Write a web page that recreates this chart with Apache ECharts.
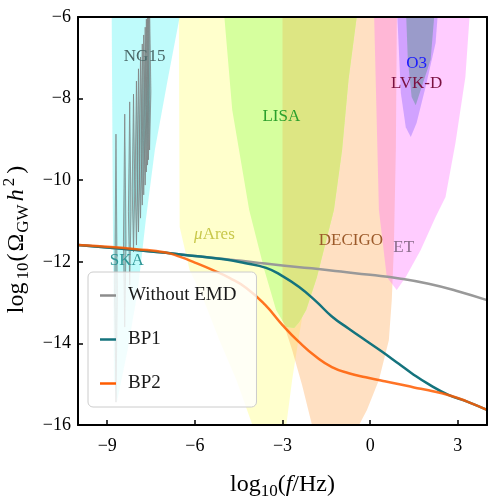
<!DOCTYPE html>
<html>
<head>
<meta charset="utf-8">
<script src="https://cdn.jsdelivr.net/npm/echarts@6/dist/echarts.min.js"></script>
<style>
  html, body { margin: 0; padding: 0; background: #fff; }
  #chart { width: 488px; height: 497px; }
</style>
</head>
<body>
<div id="chart"></div>
<script>
// tick labels
const xTicks = [-9, -6, -3, 0, 3];

// sensitivity regions: boundary curves, log10 f vs log10 Omega h^2
const skaX = [-8.85, -8.81, -8.77, -8.67, -8.30, -7.95, -7.68, -7.37, -6.93, -6.52, -6.40];
const skaY = [-5.5, -10.5, -14.9, -15.45, -14.16, -12.69, -10.98, -9.26, -7.54, -6.0, -5.5];

const muAresX = [-6.55, -6.52, -6.18, -5.74, -5.16, -4.58, -4.03, -3.5, -2.87, -2.67, -2.43, -2.0, -1.3, -0.7, -0.6];
const muAresY = [-5.5, -11.15, -12.2, -12.86, -13.92, -14.9, -16.0, -16.8, -16.0, -14.9, -13.8, -12.0, -9.0, -6.0, -5.5];

const lisaX = [-5.09, -4.99, -4.72, -4.14, -3.62, -3.22, -2.87, -2.6, -2.43, -2.19, -1.82, -1.24, -0.96, -0.74, -0.46, -0.42];
const lisaY = [-5.5, -6.0, -8.28, -10.73, -12.2, -13.18, -13.6, -13.62, -13.48, -13.18, -12.37, -10.73, -9.26, -7.54, -6.0, -5.5];

const decigoX = [-3.0, -3.0, -2.67, -2.33, -1.99, -1.2, -0.38, -0.11, 0.30, 0.64, 0.74, 0.81, 0.88, 0.92];
const decigoY = [-5.5, -13.43, -14.16, -15.02, -16.0, -17.0, -16.0, -15.63, -14.90, -13.92, -12.94, -11.71, -9.26, -5.5];

const etX = [0.12, 0.30, 0.57, 0.91, 1.22, 1.73, 2.24, 2.58, 2.92, 3.26, 3.45];
const etY = [-5.5, -10.73, -12.37, -12.69, -12.37, -11.71, -10.90, -10.41, -9.09, -7.47, -5.5];

const lvkX = [0.90, 1.05, 1.22, 1.39, 1.59, 1.93, 2.24, 2.36];
const lvkY = [-5.5, -7.86, -8.70, -8.94, -8.60, -7.62, -6.64, -5.5];

const o3X = [1.21, 1.29, 1.42, 1.56, 1.73, 2.07, 2.25];
const o3Y = [-5.5, -7.05, -7.96, -8.16, -7.79, -7.05, -5.5];

// NANOGrav 15yr violins
const ng15LogF = [-8.70, -8.40, -8.23, -8.10, -8.00, -7.93, -7.86, -7.80, -7.75, -7.70, -7.66, -7.62, -7.59, -7.55];
const ng15Top = [-8.87, -8.38, -8.08, -7.89, -7.57, -7.27, -6.98, -6.66, -6.44, -6.25, -6.05, -5.9, -5.8, -5.7];
const ng15Bottom = [-15.44, -13.60, -12.57, -11.76, -11.59, -11.27, -10.93, -10.61, -10.36, -10.12, -9.80, -9.63, -9.50, -9.26];

// GW spectra
const noEmdX = [-10, -9, -8, -7, -6, -5, -4, -3, -2, -1, 0, 1, 2, 3, 4];
const noEmdY = [-11.59, -11.65, -11.71, -11.78, -11.86, -11.93, -12.01, -12.09, -12.16, -12.24, -12.32, -12.41, -12.54, -12.72, -12.94];

const bp1X = [-10, -9, -8, -7, -6, -5, -4.3, -3.56, -3.0, -2.43, -1.85, -1.31, -0.73, -0.15, 0.4, 0.98, 1.42, 2.0, 2.68, 3.3, 4];
const bp1Y = [-11.59, -11.65, -11.71, -11.78, -11.86, -11.94, -12.03, -12.15, -12.35, -12.62, -12.97, -13.34, -13.64, -13.93, -14.2, -14.5, -14.73, -15.0, -15.26, -15.42, -15.63];

const bp2X = [-10, -9, -8, -7, -6.5, -6, -5.4, -4.8, -4.24, -3.6, -3.0, -2.43, -1.85, -1.31, -0.73, -0.15, 0.5, 1.0, 1.5, 2.0, 2.7, 3.3, 4];
const bp2Y = [-11.59, -11.63, -11.69, -11.77, -11.88, -12.02, -12.2, -12.4, -12.64, -13.05, -13.55, -13.97, -14.33, -14.58, -14.73, -14.83, -14.93, -15.0, -15.08, -15.15, -15.27, -15.42, -15.63];

// detector labels (anchor in data coords)
const labelText = ['NG15', 'SKA', '{i|μ}Ares', 'LISA', 'DECIGO', 'ET', 'O3', 'LVK-D'];
const labelAt = [[-7.72, -6.96], [-8.33, -11.98], [-5.33, -11.34], [-3.04, -8.45], [-0.66, -11.47], [1.15, -11.66], [1.59, -7.15], [1.59, -7.64]];
const labelColor = ['#4a6868', '#2e9696', '#c8c84a', '#2ca02c', '#9c5a2a', '#8a6d8a', '#1a1aff', '#7a1040'];

const SERIF = 'Liberation Serif';

const zip = (xs, ys) => xs.map((x, i) => [x, ys[i]]);

// keep only the part of a closed polygon with x >= x0
function clipLeft(pts, x0) {
  const out = [];
  for (let i = 0; i < pts.length; i++) {
    const a = pts[i], b = pts[(i + 1) % pts.length];
    const ina = a[0] >= x0, inb = b[0] >= x0;
    if (ina) out.push(a);
    if (ina !== inb) {
      const t = (x0 - a[0]) / (b[0] - a[0]);
      out.push([x0, a[1] + t * (b[1] - a[1])]);
    }
  }
  return out;
}

function region(pts, color, z) {
  return {
    type: 'custom',
    clip: true,
    silent: true,
    z: z,
    data: [0],
    renderItem: (params, api) => ({
      type: 'polygon',
      shape: { points: pts.map(p => api.coord(p)) },
      style: { fill: color }
    })
  };
}

const lisaPts = zip(lisaX, lisaY);

// rich text pieces for math-like axis titles
const tok = (size, padTop, extra) => Object.assign({
  fontFamily: SERIF, fontSize: size, color: '#000', verticalAlign: 'top', padding: [padTop, 0, 0, 0]
}, extra || {});

const xRich = {
  n: tok(24, 4),
  i: tok(24, 4, { fontStyle: 'italic' }),
  s: tok(17, 14)
};

const yRich = {
  lg: tok(24, 4, { padding: [4, 3, 0, 3] }),
  s: tok(17, 14),
  op: tok(24, 4, { padding: [4, 1, 0, 1] }),
  om: tok(24, 4, { padding: [4, 1, 0, 1] }),
  h: tok(24, 4, { fontStyle: 'italic', padding: [4, 2, 0, 3] }),
  p: tok(17, 0, { padding: [0, 2, 0, 1] }),
  cp: tok(24, 4, { padding: [4, 5, 0, 2] })
};

const minus = v => String(v).replace('-', '\u2212');

const chart = echarts.init(document.getElementById('chart'));

const option = {
  animation: false,
  grid: { left: 78, right: 1, top: 17, bottom: 72, outerBoundsMode: 'none' },
  xAxis: [{
    type: 'value', min: -10, max: 4, z: 10,
    axisLine: { onZero: false, lineStyle: { color: '#000', width: 2 } },
    axisTick: { inside: true, length: 5, customValues: xTicks, lineStyle: { color: '#000', width: 1.5 } },
    axisLabel: { customValues: xTicks, formatter: minus, fontFamily: SERIF, fontSize: 18, color: '#000', margin: 12 },
    splitLine: { show: false },
    name: '{n|log}{s|10}{n|(}{i|f}{n|/Hz)}',
    nameLocation: 'middle', nameGap: 44,
    nameTextStyle: { rich: xRich }
  }, {
    type: 'value', min: -10, max: 4, position: 'top', z: 10,
    axisLine: { onZero: false, lineStyle: { color: '#000', width: 2 } },
    axisTick: { show: false }, axisLabel: { show: false }, splitLine: { show: false }
  }],
  yAxis: [{
    type: 'value', min: -16, max: -6, interval: 2, z: 10,
    axisLine: { onZero: false, lineStyle: { color: '#000', width: 2 } },
    axisTick: { inside: true, length: 5, lineStyle: { color: '#000', width: 1.5 } },
    axisLabel: { formatter: minus, fontFamily: SERIF, fontSize: 18, color: '#000', margin: 7 },
    splitLine: { show: false },
    name: '{lg|log}{s|10}{op|(}{om|Ω}{s|GW}{h|h}{p|2}{cp|)}',
    nameLocation: 'middle', nameGap: 46, nameRotate: 90,
    nameTextStyle: { rich: yRich, padding: [0, 35, 0, 0] }
  }, {
    type: 'value', min: -16, max: -6, position: 'right', z: 10,
    axisLine: { onZero: false, lineStyle: { color: '#000', width: 2 } },
    axisTick: { show: false }, axisLabel: { show: false }, splitLine: { show: false }
  }],
  legend: {
    left: 88, top: 272, orient: 'vertical', z: 20,
    data: ['Without EMD', 'BP1', 'BP2'],
    icon: 'rect', itemWidth: 16, itemHeight: 2.5, itemGap: 25,
    padding: [14, 20, 14, 12],
    backgroundColor: 'rgba(255,255,255,0.8)',
    borderColor: '#cccccc', borderWidth: 1, borderRadius: 5,
    textStyle: { fontFamily: SERIF, fontSize: 19, color: '#1a1a1a', padding: [0, 0, 0, 7] }
  },
  series: [
    region(zip(skaX, skaY), 'rgba(0,238,238,0.25)', 1),
    region(zip(muAresX, muAresY), 'rgba(255,255,0,0.2)', 1),
    region(zip(decigoX, decigoY), 'rgba(255,152,52,0.3)', 1),
    region(lisaPts, '#d6ff9e', 1),
    region(clipLeft(lisaPts, decigoX[0]), '#dde683', 1),
    region(zip(etX, etY), 'rgba(255,100,255,0.33)', 1),
    region(zip(lvkX, lvkY), 'rgba(140,100,255,0.4)', 1),
    region(zip(o3X, o3Y), 'rgba(100,150,150,0.5)', 1),
    {
      type: 'custom', clip: true, silent: true, z: 2,
      data: ng15LogF.map((f, i) => [f, ng15Top[i], ng15Bottom[i]]),
      renderItem: (params, api) => {
        const pt = api.coord([api.value(0), api.value(1)]);
        const pb = api.coord([api.value(0), api.value(2)]);
        const mid = pb[1] - (pb[1] - pt[1]) * 0.4;
        return {
          type: 'polygon',
          shape: { points: [[pt[0], pt[1]], [pt[0] + 1.3, mid], [pb[0], pb[1]], [pt[0] - 1.3, mid]] },
          style: { fill: 'rgba(100,165,165,0.5)', stroke: 'rgba(125,125,125,0.9)', lineWidth: 0.8 }
        };
      }
    },
    {
      type: 'custom', silent: true, z: 3,
      data: labelText.map((t, i) => [labelAt[i][0], labelAt[i][1], i]),
      renderItem: (params, api) => {
        const i = api.value(2);
        const p = api.coord([api.value(0), api.value(1)]);
        return {
          type: 'text', x: p[0], y: p[1],
          style: {
            text: labelText[i], fill: labelColor[i],
            fontFamily: SERIF, fontSize: 17, align: 'center', verticalAlign: 'middle',
            rich: { i: { fontFamily: SERIF, fontSize: 17, fontStyle: 'italic', fill: labelColor[i] } }
          }
        };
      }
    },
    {
      name: 'Without EMD', type: 'line', z: 5, symbol: 'none', smooth: true,
      data: zip(noEmdX, noEmdY),
      lineStyle: { color: '#999999', width: 2.5 }, itemStyle: { color: '#8c8c8c' }
    },
    {
      name: 'BP1', type: 'line', z: 6, symbol: 'none', smooth: true,
      data: zip(bp1X, bp1Y),
      lineStyle: { color: '#14737d', width: 2.5 }, itemStyle: { color: '#14737d' }
    },
    {
      name: 'BP2', type: 'line', z: 7, symbol: 'none', smooth: true,
      data: zip(bp2X, bp2Y),
      lineStyle: { color: '#ff5c00', width: 2.5, opacity: 0.85 }, itemStyle: { color: '#ff5c00' }
    }
  ]
};

chart.setOption(option);
</script>
</body>
</html>
